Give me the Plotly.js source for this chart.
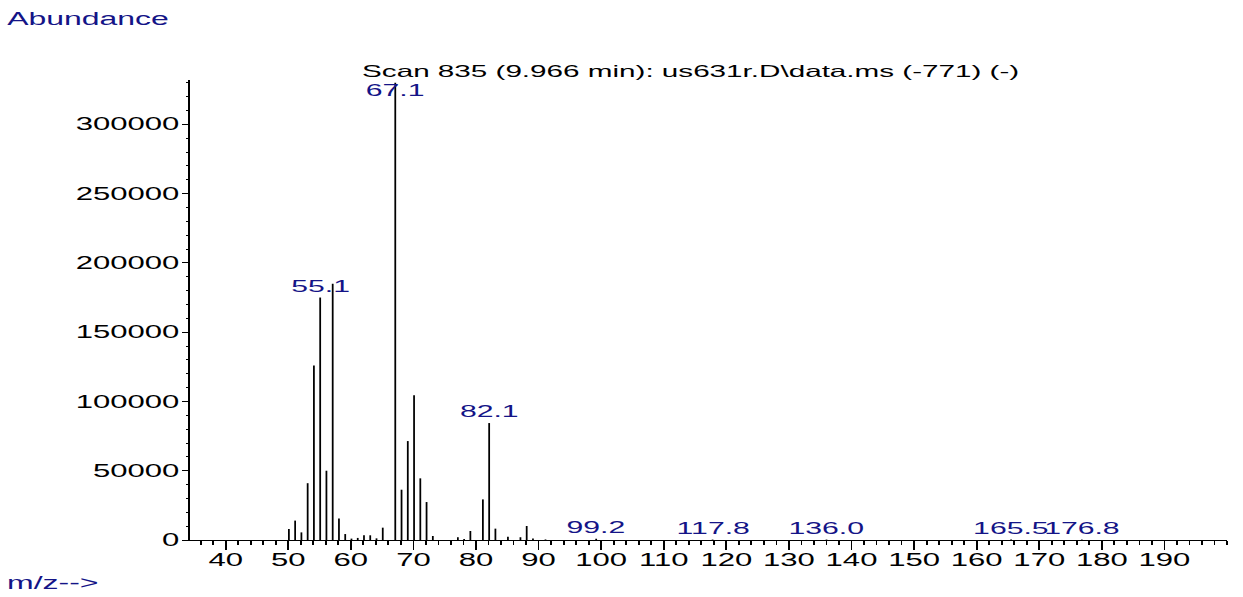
<!DOCTYPE html>
<html>
<head>
<meta charset="utf-8">
<script src="https://cdn.plot.ly/plotly-3.0.1.min.js"></script>
<style>
  html, body { margin: 0; padding: 0; overflow: hidden; background: #fff; }
  #chart { width: 700px; height: 597px; transform: scaleX(1.775714); transform-origin: 0 0; }
</style>
</head>
<body>
<div id="chart"></div>
<script>
// ---- data ----
const mz = [50.1, 51.1, 52.1, 53.1, 54.1, 55.1, 56.1, 57.1, 58.1, 59.1, 60.1, 61.1, 62.1, 63.1, 64.1, 65.1,
            67.1, 68.1, 69.1, 70.1, 71.1, 72.1, 73.1, 77.1, 78.1, 79.1, 81.1, 82.1, 83.1, 85.1, 87.1, 88.1, 89.1, 91.1,
            99.2, 117.8, 136.0, 165.5, 176.8];
const abundance = [8000, 14000, 5500, 41000, 126000, 175000, 50000, 185000, 15600, 4300, 1000, 1500, 3400, 3400, 1200, 8900,
            330000, 36300, 71400, 104500, 44500, 27400, 2900, 2000, 700, 6500, 29300, 84400, 8200, 2400, 2000, 10100, 1000, 400,
            900, 300, 300, 300, 300];
const labeledPeaks = [55.1, 67.1, 82.1, 99.2, 117.8, 136.0, 165.5, 176.8];
const xTickVals = [40, 50, 60, 70, 80, 90, 100, 110, 120, 130, 140, 150, 160, 170, 180, 190];
const yTickVals = [0, 50000, 100000, 150000, 200000, 250000, 300000];
const titleText = "Scan 835 (9.966 min): us631r.D\\data.ms (-771) (-)";

// ---- styling ----
const NAVY = 'rgb(20,20,135)';
const FONT = 'Liberation Sans, Arial, sans-serif';
const LABEL_CAP = 316000;

// spectrum sticks
const xs = [], ys = [];
mz.forEach((m, i) => { xs.push(m, m, null); ys.push(0, abundance[i], null); });

const trace = {
  type: 'scatter', mode: 'lines', x: xs, y: ys,
  line: { color: '#000', width: 1 }, hoverinfo: 'skip', connectgaps: false
};

const annotations = labeledPeaks.map(p => {
  const i = mz.indexOf(p);
  return {
    xref: 'x', yref: 'y', x: p, y: Math.min(abundance[i], LABEL_CAP),
    text: p.toFixed(1), showarrow: false, xanchor: 'center', yanchor: 'bottom',
    font: { family: FONT, size: 17, color: NAVY }
  };
});
annotations.push({
  xref: 'paper', yref: 'paper', x: -0.1803, y: 1.1333, xanchor: 'left', yanchor: 'middle',
  text: 'Abundance', showarrow: false, font: { family: FONT, size: 18, color: NAVY }
});
annotations.push({
  xref: 'paper', yref: 'paper', x: -0.1790, y: -0.0935, xanchor: 'left', yanchor: 'middle',
  text: 'm/z-->', showarrow: false, font: { family: FONT, size: 18, color: NAVY }
});

const layout = {
  width: 700, height: 597,
  margin: { l: 107, r: 9, t: 80, b: 57 },
  paper_bgcolor: '#fff', plot_bgcolor: '#fff',
  showlegend: false,
  title: {
    text: titleText, xref: 'container', yref: 'container',
    x: 0.2913, xanchor: 'left', y: 1 - 71.5 / 597, yanchor: 'middle',
    font: { family: FONT, size: 16.7, color: '#000' }
  },
  xaxis: {
    range: [34.3, 200], showgrid: false, zeroline: false,
    showline: true, linecolor: '#000', linewidth: 1,
    tickmode: 'array', tickvals: xTickVals, ticktext: xTickVals.map(String),
    ticks: 'outside', ticklen: 9, tickwidth: 1, tickcolor: '#000',
    ticklabelstandoff: -5,
    minor: { dtick: 2, tick0: 0, ticks: 'outside', ticklen: 4, tickwidth: 1, tickcolor: '#000' },
    tickfont: { family: FONT, size: 17.5, color: '#000' }
  },
  yaxis: {
    range: [0, 332000], showgrid: false, zeroline: false,
    showline: true, linecolor: '#000', linewidth: 1,
    tickmode: 'array', tickvals: yTickVals, ticktext: yTickVals.map(String),
    ticks: 'outside', ticklen: 3.5, tickwidth: 1, tickcolor: '#000',
    ticklabelstandoff: -2,
    minor: { dtick: 10000, tick0: 0, ticks: 'outside', ticklen: 1.5, tickwidth: 1, tickcolor: '#000' },
    tickfont: { family: FONT, size: 17.5, color: '#000' }
  },
  annotations: annotations
};

Plotly.newPlot('chart', [trace], layout, { staticPlot: true, displayModeBar: false });
</script>
</body>
</html>
